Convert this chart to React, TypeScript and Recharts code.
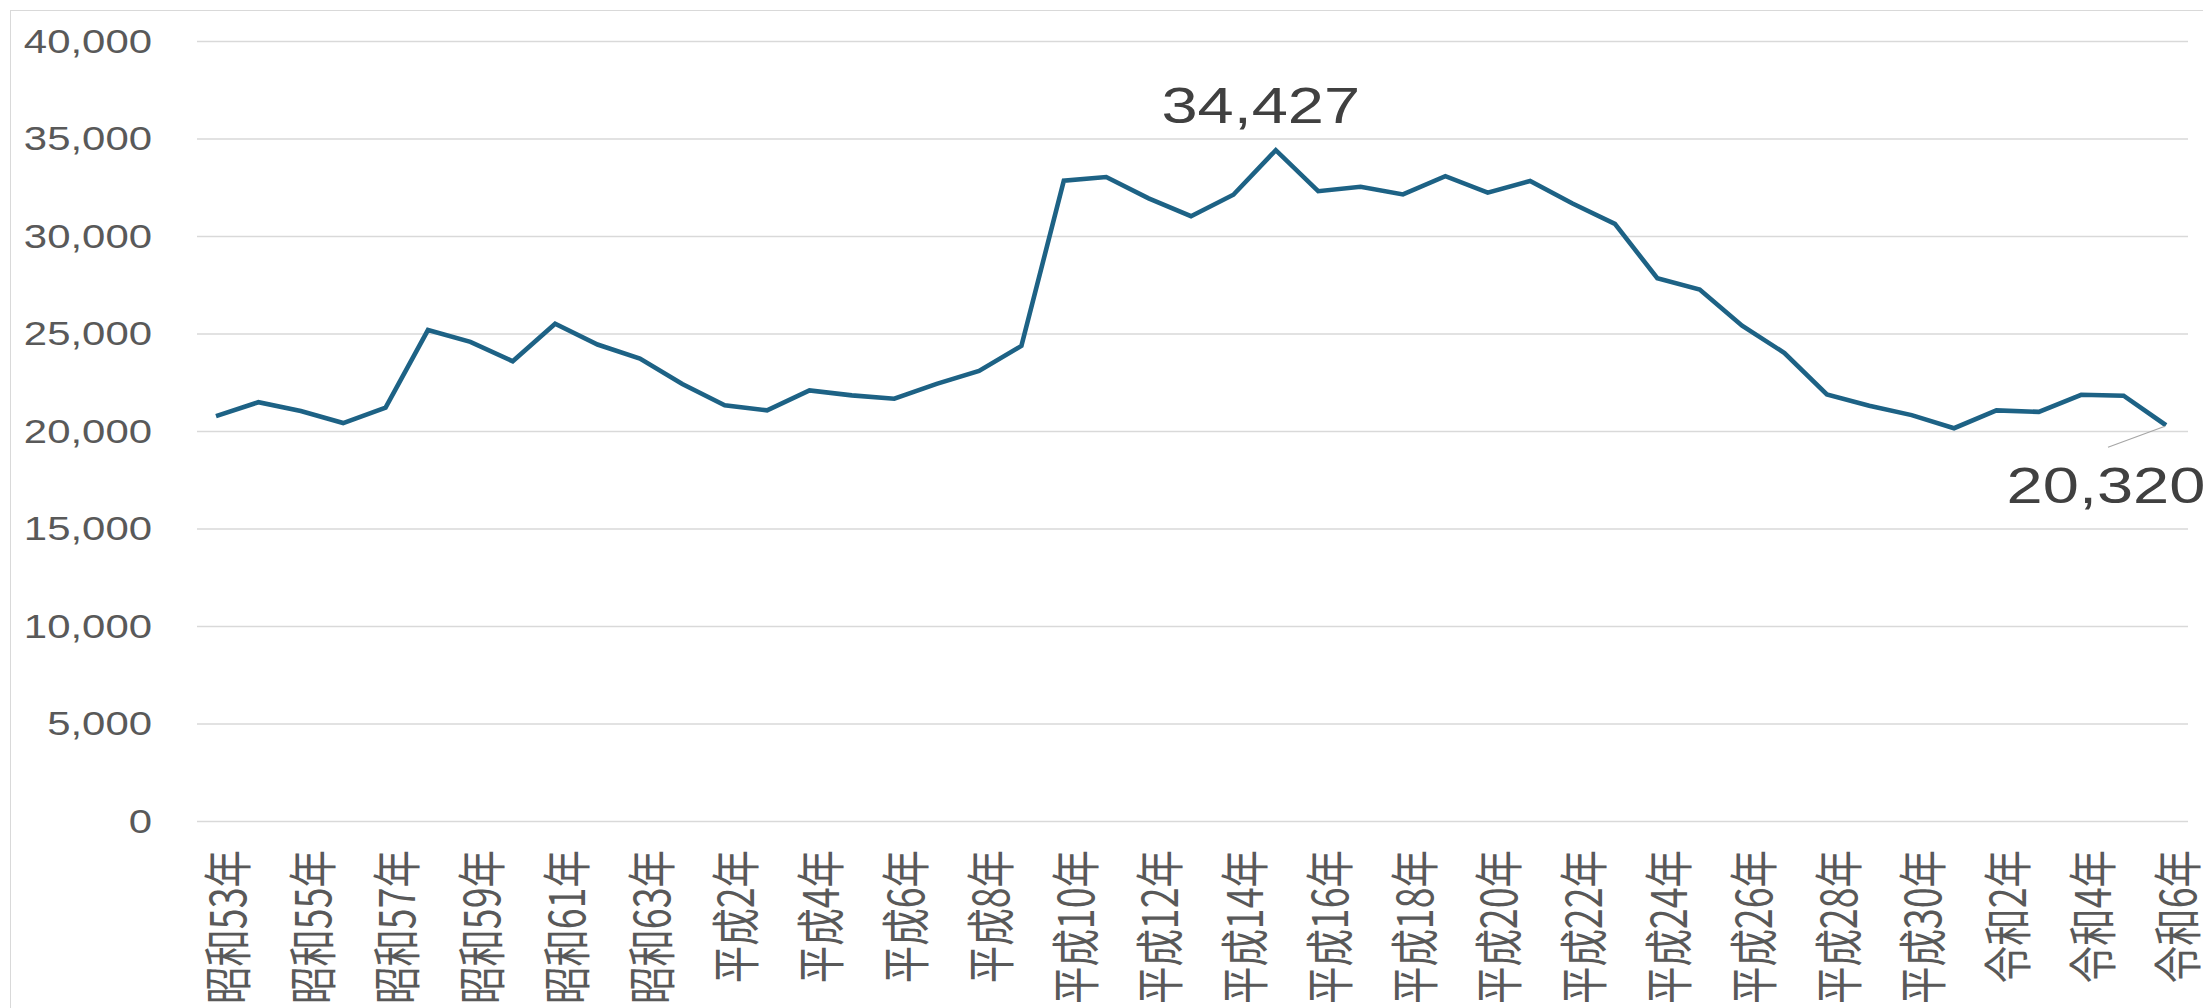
import React from 'react';
import { LineChart, Line, XAxis, YAxis, CartesianGrid, LabelList } from 'recharts';

const years = [
  '昭和53年', '昭和54年', '昭和55年', '昭和56年', '昭和57年', '昭和58年', '昭和59年', '昭和60年', '昭和61年', '昭和62年', '昭和63年',
  '平成元年', '平成2年', '平成3年', '平成4年', '平成5年', '平成6年', '平成7年', '平成8年', '平成9年', '平成10年',
  '平成11年', '平成12年', '平成13年', '平成14年', '平成15年', '平成16年', '平成17年', '平成18年', '平成19年', '平成20年',
  '平成21年', '平成22年', '平成23年', '平成24年', '平成25年', '平成26年', '平成27年', '平成28年', '平成29年', '平成30年',
  '令和元年', '令和2年', '令和3年', '令和4年', '令和5年', '令和6年',
];

const suicides = [
  20788, 21503, 21048, 20434, 21228, 25202, 24596, 23599, 25524, 24460, 23742,
  22436, 21346, 21084, 22104, 21851, 21679, 22445, 23104, 24391, 32863,
  33048, 31957, 31042, 32143, 34427, 32325, 32552, 32155, 33093, 32249,
  32845, 31690, 30651, 27858, 27283, 25427, 24025, 21897, 21321, 20840,
  20169, 21081, 21007, 21881, 21837, 20320,
];

const yTicks = [0, 5000, 10000, 15000, 20000, 25000, 30000, 35000, 40000];

const data = years.map((year, i) => ({ year, value: suicides[i] }));

const peakValue = Math.max(...suicides);
const lastValue = suicides[suicides.length - 1];

const fmt = (v: number) => v.toLocaleString('en-US');

const XTick = (props: any) => {
  const { x, y, payload } = props;
  return (
    <g transform={`translate(${x + 9},${y + 28.5}) scale(1.3,1) rotate(-90)`}>
      <text
        x={0}
        y={0}
        textAnchor="end"
        dominantBaseline="central"
        fill="#595959"
        fontSize={37.5}
        fontFamily="'Noto Sans CJK JP', sans-serif"
      >
        {payload.value}
      </text>
    </g>
  );
};

const YTick = (props: any) => {
  const { x, y, payload } = props;
  return (
    <g transform={`translate(${x - 45},${y}) scale(1.27,1)`}>
      <text
        x={0}
        y={0}
        textAnchor="end"
        dominantBaseline="central"
        fill="#595959"
        fontSize={33}
        fontFamily="'Liberation Sans', Arial, sans-serif"
      >
        {fmt(payload.value)}
      </text>
    </g>
  );
};

const PointLabel = (props: any) => {
  const { x, y, value } = props;
  if (value === peakValue) {
    return (
      <g transform={`translate(${x - 15},${y - 44.5}) scale(1.3,1)`}>
        <text x={0} y={0} textAnchor="middle" dominantBaseline="central" fill="#404040" fontSize={50}
          fontFamily="'Liberation Sans', Arial, sans-serif">
          {fmt(value)}
        </text>
      </g>
    );
  }
  if (value === lastValue) {
    return (
      <g>
        <line x1={x - 58} y1={y + 22} x2={x - 1} y2={y + 1} stroke="#a6a6a6" strokeWidth={1.2} />
        <g transform={`translate(${x - 60},${y + 60}) scale(1.3,1)`}>
          <text x={0} y={0} textAnchor="middle" dominantBaseline="central" fill="#404040" fontSize={50}
            fontFamily="'Liberation Sans', Arial, sans-serif">
            {fmt(value)}
          </text>
        </g>
      </g>
    );
  }
  return null;
};

export default function App() {
  return (
    <div style={{ position: 'relative', width: 2203, height: 1000 }}>
      <div
        style={{
          position: 'absolute',
          left: 2,
          top: 2,
          width: 2300,
          height: 1100,
          borderTop: '1px solid #d9d9d9',
          borderLeft: '1px solid #d9d9d9',
          pointerEvents: 'none',
        }}
      />
      <LineChart
        width={2203}
        height={1000}
        data={data}
        margin={{ top: 33.5, right: 23, left: 0, bottom: 0 }}
      >
        <CartesianGrid vertical={false} stroke="#d9d9d9" strokeWidth={1.3} />
        <XAxis
          dataKey="year"
          interval={1}
          axisLine={false}
          tickLine={false}
          tickSize={0}
          tickMargin={0}
          height={186.5}
          padding={{ left: 19, right: 22 }}
          tick={<XTick />}
        />
        <YAxis
          domain={[0, 40000]}
          ticks={yTicks}
          axisLine={false}
          tickLine={false}
          tickSize={0}
          tickMargin={0}
          width={189}
          tick={<YTick />}
        />
        <Line
          type="linear"
          dataKey="value"
          stroke="#1d6285"
          strokeWidth={4.6}
          dot={false}
          isAnimationActive={false}
        >
          <LabelList dataKey="value" content={<PointLabel />} />
        </Line>
      </LineChart>
    </div>
  );
}
